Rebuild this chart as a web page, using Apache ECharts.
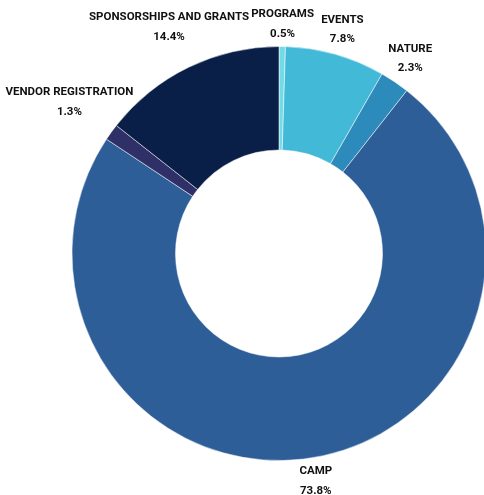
<!DOCTYPE html>
<html>
<head>
<meta charset="utf-8">
<script src="https://cdn.jsdelivr.net/npm/echarts@6/dist/echarts.min.js"></script>
<style>html,body{margin:0;padding:0;background:#fff;}#c{width:484px;height:495px;}</style>
</head>
<body>
<div id="c"></div>
<script>
const categories = ['PROGRAMS', 'EVENTS', 'NATURE', 'CAMP', 'VENDOR REGISTRATION', 'SPONSORSHIPS AND GRANTS'];
const values = [0.5, 7.8, 2.3, 73.8, 1.3, 14.4];
const colors = ['#72dbe6', '#42b9d6', '#2d8bbb', '#2e5e98', '#2f3068', '#0a1f48'];

const CX = 279, CY = 253.5, R_OUT = 207, R_IN = 103.5;
const total = values.reduce((a, b) => a + b, 0);
const midAngles = [];
let acc = 0;
values.forEach(v => { midAngles.push((acc + v / 2) / total * 2 * Math.PI); acc += v; });

const chart = echarts.init(document.getElementById('c'), null, {renderer: 'canvas'});
chart.setOption({
  animation: false,
  series: [{
    type: 'pie',
    center: [CX, CY],
    radius: [R_IN, R_OUT],
    startAngle: 90,
    clockwise: true,
    avoidLabelOverlap: false,
    itemStyle: {borderColor: '#ffffff', borderWidth: 0.5},
    label: {
      show: true,
      position: 'outside',
      formatter: p => p.name + '\n' + p.value + '%',
      fontFamily: "Roboto, sans-serif",
      fontWeight: 'bold',
      fontSize: 11.5,
      lineHeight: 19.5,
      color: '#111111',
      align: 'center'
    },
    labelLine: {show: false},
    labelLayout: function (params) {
      const a = midAngles[params.dataIndex];
      const ux = Math.sin(a), uy = -Math.cos(a);
      const w = params.labelRect.width * 0.7, h = 32;
      const d = R_OUT + 6 + Math.abs(ux) * w / 2 + Math.abs(uy) * h / 2;
      let x = CX + ux * d;
      const half = params.labelRect.width / 2 + 2;
      x = Math.max(half, Math.min(484 - half, x));
      return {x: x, y: CY + uy * d, align: 'center', verticalAlign: 'middle'};
    },
    data: categories.map((c, i) => ({name: c, value: values[i], itemStyle: {color: colors[i]}}))
  }]
});
</script>
</body>
</html>
